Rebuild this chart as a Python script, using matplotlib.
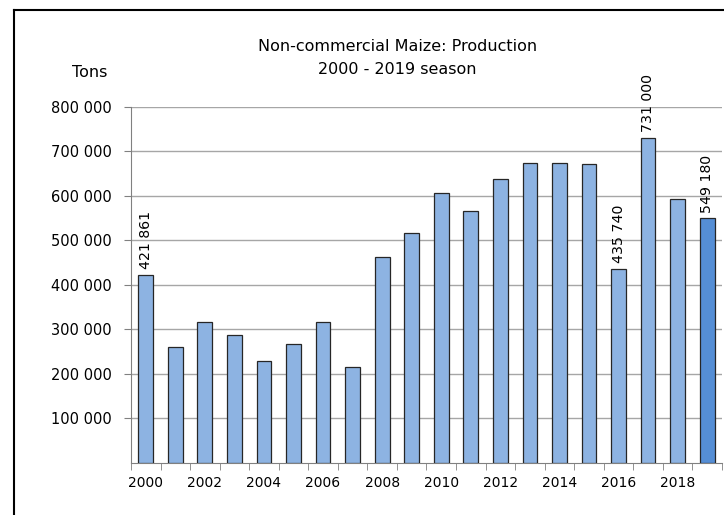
import numpy as np
import matplotlib
matplotlib.use("Agg")
import matplotlib.pyplot as plt
from matplotlib.lines import Line2D

# data (tons)
years = list(range(2000, 2020))
production = [421861, 260000, 317000, 287000, 229000, 267000, 317000, 215000,
              463000, 516000, 606000, 565000, 638000, 674000, 674000, 672500,
              435740, 731000, 592500, 549180]
labelled = [2000, 2016, 2017, 2019]
yticks = [100000, 200000, 300000, 400000, 500000, 600000, 700000, 800000]

plt.rcParams['font.family'] = ['DejaVu Sans']

fig = plt.figure(figsize=(7.24, 5.15), dpi=100)
ax = fig.add_axes([0.1809, 0.1019, 0.8163, 0.6903])

x = np.arange(len(years))
colors = ['#8DB3E2'] * len(years)
colors[-1] = '#558ED5'
ax.bar(x, production, width=0.5, color=colors, edgecolor='#262626',
       linewidth=0.9, zorder=3)

for i, (yr, v) in enumerate(zip(years, production)):
    if yr in labelled:
        ax.annotate(f"{v:,}".replace(",", " "), (i, v), xytext=(0, 4),
                    textcoords='offset points', rotation=90, ha='center',
                    va='bottom', fontsize=10.2)

ax.set_xlim(-0.5, len(years) - 0.5)
ax.set_ylim(0, 800000)
ax.set_yticks(yticks)
ax.set_yticklabels([f"{t:,}".replace(",", " ") for t in yticks], fontsize=10.5)
ax.set_xticks(x[::2])
ax.set_xticklabels([str(y) for y in years[::2]], fontsize=10)
ax.tick_params(axis='x', length=0, pad=10)
ax.set_xticks(np.arange(-0.5, len(years)), minor=True)
ax.tick_params(axis='x', which='minor', length=5, color='#808080', direction='out')
ax.tick_params(axis='y', length=5, color='#808080', pad=9)
ax.grid(axis='y', color='#A6A6A6', linewidth=1, zorder=0)

for s in ['top', 'right']:
    ax.spines[s].set_visible(False)
for s in ['left', 'bottom']:
    ax.spines[s].set_color('#808080')

fig.text(0.549, 0.910, "Non-commercial Maize: Production", ha='center',
         va='center', fontsize=11.5)
fig.text(0.549, 0.866, "2000 - 2019 season", ha='center', va='center',
         fontsize=11.5)
fig.text(0.124, 0.860, "Tons", ha='center', va='center', fontsize=11.5)

# outer chart border (top and left visible)
fig.add_artist(Line2D([0.0193, 1.0], [0.981, 0.981], color='black', linewidth=1.5,
                      transform=fig.transFigure))
fig.add_artist(Line2D([0.0193, 0.0193], [0.0, 0.981], color='black', linewidth=1.5,
                      transform=fig.transFigure))

fig.savefig("out.png", dpi=100)
